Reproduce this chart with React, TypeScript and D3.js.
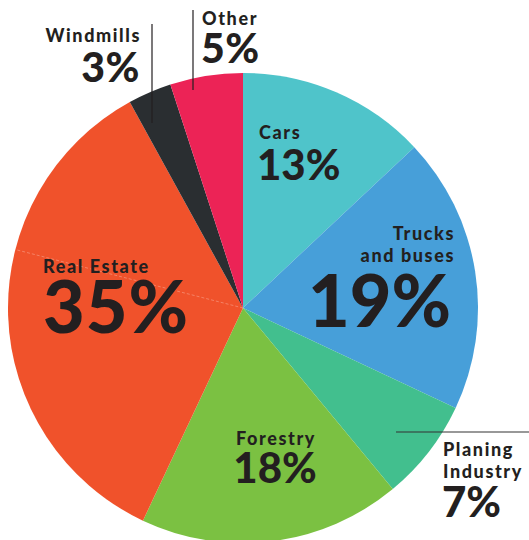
import React from "react";
import * as d3 from "d3";

const categories = ["Cars", "Trucks and buses", "Planing Industry", "Forestry", "Real Estate", "Windmills", "Other"];
const values = [13, 19, 7, 18, 35, 3, 5];
const colors = ["#4FC4CA", "#479FD9", "#42BF8E", "#7BC142", "#F0522B", "#2A2E31", "#EC2356"];

const W = 529, H = 540;
const cx = 243, cy = 308, R = 235;
const FONT = "Lato, 'Noto Sans', sans-serif";
const INK = "#231f20";

export default function App() {
  const pie = d3.pie<number>().sort(null).value((d) => d)(values);
  const arc = d3.arc<d3.PieArcDatum<number>>().innerRadius(0).outerRadius(R);
  const seamAngle = (pie[4].startAngle + 22 * (pie[4].endAngle - pie[4].startAngle) / 35);
  const seamX = R * Math.sin(seamAngle), seamY = -R * Math.cos(seamAngle);

  const lab = (x: number, y: number, t: string, size: number, anchor = "start", ls = 0) => (
    <text x={x} y={y} fontSize={size} fontWeight={900} fill={INK} textAnchor={anchor} fontFamily={FONT} letterSpacing={ls}>{t}</text>
  );
  const name = (x: number, y: number, t: string, anchor = "start") => lab(x, y, t, 18, anchor, 1.6);

  return (
    <svg width={W} height={H} style={{ position: "absolute", left: 0, top: 0 }}>
      <rect width={W} height={H} fill="#fff" />
      <g transform={`translate(${cx},${cy})`}>
        {pie.map((p, i) => (
          <path key={categories[i]} d={arc(p) || ""} fill={colors[i]} />
        ))}
        <line x1={0} y1={0} x2={seamX} y2={seamY} stroke="#fff" strokeOpacity={0.35} strokeWidth={0.8} strokeDasharray="3,2" />
      </g>
      {/* leader lines */}
      <line x1={193} y1={10} x2={193} y2={90} stroke={INK} strokeWidth={1.2} />
      <line x1={152} y1={24} x2={152} y2={123} stroke={INK} strokeWidth={1.2} />
      <line x1={396} y1={432} x2={529} y2={432} stroke="#333" strokeWidth={1.2} />

      {name(202, 25, "Other")}
      {lab(201, 63, values[6] + "%", 41, "start", 0.5)}
      {name(141, 42, "Windmills", "end")}
      {lab(140, 82, values[5] + "%", 41, "end", 0.5)}
      {name(259, 139, "Cars")}
      {lab(257, 180, values[0] + "%", 42)}
      {name(455, 240, "Trucks", "end")}
      {name(455, 262, "and buses", "end")}
      {lab(451, 327, values[1] + "%", 72, "end")}
      {name(443, 456, "Planing")}
      {name(443, 478, "Industry")}
      {lab(442, 517, values[2] + "%", 42)}
      {name(43, 273, "Real Estate")}
      {lab(43, 333, values[4] + "%", 72, "start", 1)}
      {name(276, 445, "Forestry", "middle")}
      {lab(275, 483, values[3] + "%", 42, "middle")}
    </svg>
  );
}
